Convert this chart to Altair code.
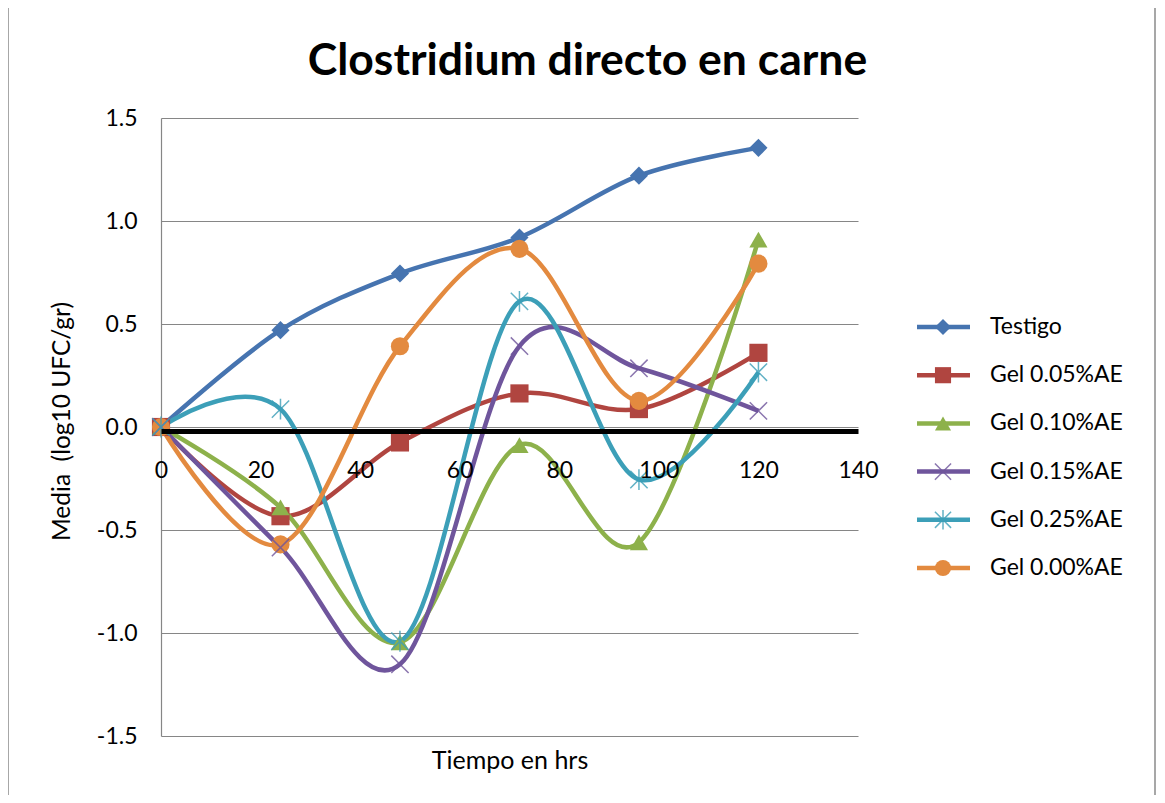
import altair as alt
import pandas as pd

# ---- data ----
series = ["Testigo", "Gel 0.05%AE", "Gel 0.10%AE", "Gel 0.15%AE", "Gel 0.25%AE", "Gel 0.00%AE"]
hours = [0, 24, 48, 72, 96, 120]
testigo = [0.0, 0.47, 0.745, 0.92, 1.22, 1.355]
gel005 = [0.0, -0.433, -0.075, 0.163, 0.087, 0.36]
gel010 = [0.0, -0.39, -1.045, -0.088, -0.56, 0.91]
gel015 = [0.0, -0.585, -1.152, 0.393, 0.285, 0.078]
gel025 = [0.0, 0.087, -1.04, 0.61, -0.255, 0.266]
gel000 = [0.0, -0.57, 0.392, 0.865, 0.127, 0.793]
x_ticks = [0, 20, 40, 60, 80, 100, 120, 140]
y_ticks = [-1.5, -1.0, -0.5, 0.0, 0.5, 1.0, 1.5]

values = [testigo, gel005, gel010, gel015, gel025, gel000]
rows = []
for s, vals in zip(series, values):
    for h, v in zip(hours, vals):
        rows.append({"series": s, "hours": h, "value": v})
df = pd.DataFrame(rows)
legend_df = pd.DataFrame({"series": series})

colors = ["#4674B0", "#B04540", "#8DB14B", "#6F559C", "#3C9FB8", "#E38A3F"]
X_PATH = "M-1,-1L1,1M1,-1L-1,1"
AST_PATH = "M-1,-1L1,1M1,-1L-1,1M0,-1.2L0,1.2"
shapes = ["diamond", "square", "triangle-up", X_PATH, AST_PATH, "circle"]
filled_series = ["Testigo", "Gel 0.05%AE", "Gel 0.10%AE", "Gel 0.00%AE"]
stroked_series = ["Gel 0.15%AE", "Gel 0.25%AE"]

FONT = "Lato"
color_enc = alt.Color("series:N", scale=alt.Scale(domain=series, range=colors), legend=None)
shape_enc = alt.Shape("series:N", scale=alt.Scale(domain=series, range=shapes), legend=None)

x_enc = alt.X(
    "hours:Q",
    scale=alt.Scale(domain=[0, 140], nice=False),
    axis=alt.Axis(
        values=x_ticks, title="Tiempo en hrs", offset=-305, zindex=1,
        domainColor="#000000", domainWidth=5, ticks=False, tickSize=0,
        labelPadding=28, labelFlush=False, labelFont=FONT, labelFontSize=23,
        labelColor="#000000", titleFont=FONT, titleFontSize=25, titleFontWeight="normal",
        titleColor="#000000", titleY=329, titleBaseline="middle", grid=False,
    ),
)
y_enc = alt.Y(
    "value:Q",
    scale=alt.Scale(domain=[-1.5, 1.5], nice=False),
    axis=alt.Axis(
        values=y_ticks, title="Media\u00a0\u00a0(log10 UFC/gr)", grid=True, gridColor="#868686",
        gridWidth=1.2, domainColor="#868686", domainWidth=1.2, ticks=False, tickSize=0,
        labelPadding=24, labelFont=FONT, labelFontSize=23, labelColor="#000000",
        labelExpr="replace(format(datum.value, '.1f'), '\u2212', '-')",
        titleFont=FONT, titleFontSize=24.5, titleFontWeight="normal", titleColor="#000000",
        titleX=-99, titleY=303, titleAlign="center", titleBaseline="middle", titleAngle=-90,
    ),
)

base = alt.Chart(df)
lines = base.mark_line(interpolate="cardinal", strokeWidth=4.5).encode(
    x=x_enc, y=y_enc, color=color_enc, detail="series:N"
)
pts_filled = base.mark_point(filled=True, opacity=1, size=330, strokeWidth=0).encode(
    x="hours:Q", y="value:Q", color=color_enc, shape=shape_enc
).transform_filter(alt.FieldOneOfPredicate(field="series", oneOf=filled_series))
pts_stroked = base.mark_point(filled=False, opacity=0.8, size=300, strokeWidth=1.5).encode(
    x="hours:Q", y="value:Q", color=color_enc, shape=shape_enc
).transform_filter(alt.FieldOneOfPredicate(field="series", oneOf=stroked_series))

main = alt.layer(lines, pts_filled, pts_stroked)

# ---- legend drawn as marks ----
ly = alt.Y("series:N", sort=series, axis=None,
           scale=alt.Scale(type="point", domain=series, range=[209, 450], padding=0))
lbase = alt.Chart(legend_df)
leg_line = lbase.mark_rule(strokeWidth=4.5).encode(
    x=alt.value(756), x2=alt.value(809), y=ly, color=color_enc
)
leg_pf = lbase.mark_point(filled=True, opacity=1, size=260, strokeWidth=0).encode(
    x=alt.value(782), y=ly, color=color_enc, shape=shape_enc
).transform_filter(alt.FieldOneOfPredicate(field="series", oneOf=filled_series))
leg_ps = lbase.mark_point(filled=False, opacity=0.8, size=260, strokeWidth=1.5).encode(
    x=alt.value(782), y=ly, color=color_enc, shape=shape_enc
).transform_filter(alt.FieldOneOfPredicate(field="series", oneOf=stroked_series))
leg_text = lbase.mark_text(align="left", baseline="middle", font=FONT, fontSize=23,
                           color="#000000").encode(
    x=alt.value(829), y=ly, text="series:N"
)
legend = alt.layer(leg_line, leg_pf, leg_ps, leg_text)

# ---- title and frame ----
title_df = pd.DataFrame({"t": ["Clostridium directo en carne"]})
title = alt.Chart(title_df).mark_text(
    align="center", baseline="alphabetic", font=FONT, fontSize=44.5, fontWeight="bold",
    color="#000000"
).encode(x=alt.value(426.5), y=alt.value(-43), text="t:N")
frame = alt.Chart(title_df).mark_rect(fill=None, stroke="#8A8A8A", strokeWidth=1.5).encode(
    x=alt.value(-153), x2=alt.value(994), y=alt.value(-111), y2=alt.value(720)
)

chart = alt.layer(frame, main, legend, title).resolve_scale(y="independent").properties(
    width=697, height=618,
    autosize=alt.AutoSizeParams(type="none"),
    padding={"left": 153, "top": 110, "right": 299, "bottom": 59},
    background="white",
).configure_view(stroke=None)

chart.save("out.html", embed_options={"renderer": "svg", "actions": False})
